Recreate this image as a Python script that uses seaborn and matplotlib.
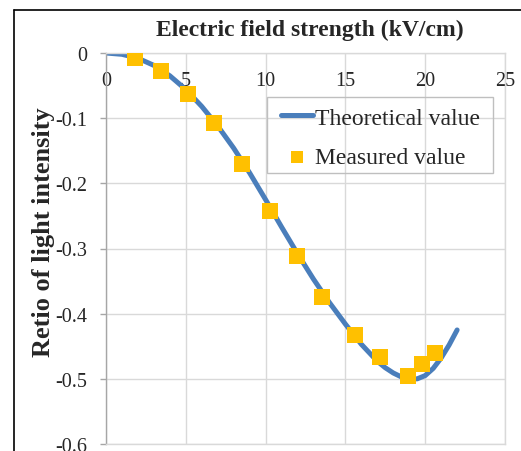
import numpy as np
import pandas as pd
import matplotlib
matplotlib.use("Agg")
import matplotlib.pyplot as plt
from matplotlib.patches import Rectangle
from matplotlib.lines import Line2D
import seaborn as sns

# Theoretical curve (field strength in kV/cm, ratio of light intensity)
field_theory = [0, 1, 2, 3, 4, 5, 6, 7, 8, 9, 10, 11, 12, 13, 14, 15, 16,
                17, 17.5, 18, 18.5, 19, 19.5, 20, 20.5, 21, 21.5, 22]
ratio_theory = [0.000, -0.002, -0.008, -0.019, -0.035, -0.056, -0.082,
                -0.112, -0.146, -0.184, -0.225, -0.267, -0.308, -0.347,
                -0.383, -0.416, -0.447,
                -0.473, -0.483, -0.491, -0.497, -0.500, -0.500, -0.495,
                -0.484, -0.468, -0.448, -0.425]

# Measured points
field_meas = [1.8, 3.45, 5.15, 6.75, 8.55, 10.3, 11.95, 13.55,
              15.6, 17.15, 18.95, 19.8, 20.6]
ratio_meas = [-0.008, -0.027, -0.063, -0.108, -0.171, -0.242, -0.312,
              -0.374, -0.432, -0.466, -0.495, -0.477, -0.461]

x_ticks = [0, 5, 10, 15, 20, 25]
y_ticks = [0, -0.1, -0.2, -0.3, -0.4, -0.5, -0.6]
y_tick_labels = ["0", "-0.1", "-0.2", "-0.3", "-0.4", "-0.5", "-0.6"]

theory = pd.DataFrame({"field": field_theory, "ratio": ratio_theory})
meas = pd.DataFrame({"field": field_meas, "ratio": ratio_meas})

sns.set_style("white")
plt.rcParams["font.family"] = ["Liberation Serif", "DejaVu Serif"]

W, H = 521, 452
fig = plt.figure(figsize=(W / 100, H / 100), dpi=100)
ax = fig.add_axes([106 / W, 1 - 445 / H, 399 / W, 391 / H])

sns.lineplot(data=theory, x="field", y="ratio", ax=ax, color="#4A7EBB",
             linewidth=3.6, solid_capstyle="round", label="Theoretical value",
             zorder=2)
sns.scatterplot(data=meas, x="field", y="ratio", ax=ax, marker="s", s=135,
                color="#FFC000", linewidth=0, label="Measured value", zorder=3)

ax.set_xlim(0, 25)
ax.set_ylim(-0.6, 0)
ax.set_xticks(x_ticks)
ax.set_xticklabels([str(t) for t in x_ticks])
ax.set_yticks(y_ticks)
ax.set_yticklabels(y_tick_labels)

# x tick labels hang just below the zero line
ax.xaxis.set_ticks_position("top")
ax.tick_params(axis="x", length=0, pad=-27, labelsize=14.5,
               labeltop=True, labelbottom=False)
ax.tick_params(axis="y", left=True, length=4.5, width=1, color="#A6A6A6",
               pad=9, labelsize=14.5)

ax.grid(True, color="#D9D9D9", linewidth=1)
for name, sp in ax.spines.items():
    sp.set_color("#D9D9D9")
    sp.set_linewidth(1)
ax.spines["left"].set_color("#A6A6A6")

ax.set_xlabel("Electric field strength (kV/cm)", fontsize=17, fontweight="bold")
ax.xaxis.set_label_position("top")
ax.xaxis.set_label_coords((310 - 106) / 399, 1 + (54 - 35.7) / 391)
ax.xaxis.label.set_va("baseline")

ax.set_ylabel("Retio of light intensity", fontsize=19, fontweight="bold")
ax.yaxis.set_label_coords((44 - 106) / 399, 1 - (232.5 - 54) / 391)
ax.yaxis.label.set_va("center")

handles, labels = ax.get_legend_handles_labels()
leg = ax.legend(handles, labels, loc="upper left",
                bbox_to_anchor=((280.7 - 106) / 399, 1 - (108.2 - 54) / 391),
                borderaxespad=0, borderpad=0, frameon=False, fontsize=17,
                handlelength=1.38, handletextpad=0.08, labelspacing=0.76,
                markerscale=0.8)
ax.add_patch(Rectangle(((266.7 - 106) / 399, 1 - (174 - 54) / 391),
                       (493 - 266.7) / 399, (174 - 97.7) / 391,
                       transform=ax.transAxes, fill=False,
                       edgecolor="#BFBFBF", linewidth=1, zorder=4,
                       clip_on=False))

# outer chart border
fig.add_artist(Line2D([13.5 / W, 13.5 / W], [0, 1 - 10.5 / H],
                      color="black", linewidth=1.2))
fig.add_artist(Line2D([13.5 / W, 1], [1 - 10.5 / H, 1 - 10.5 / H],
                      color="black", linewidth=1.2))

fig.savefig("out.png", dpi=100)
